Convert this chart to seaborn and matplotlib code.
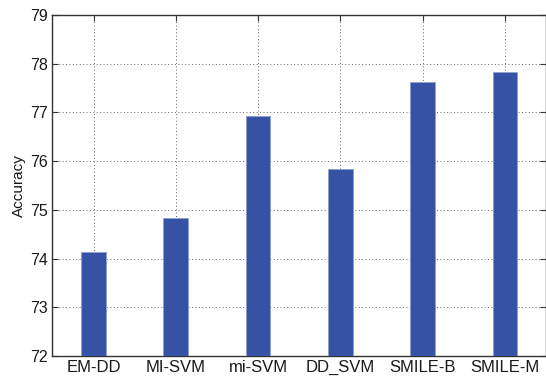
import matplotlib
matplotlib.use("Agg")
import matplotlib.pyplot as plt
import seaborn as sns
import pandas as pd

methods = ["EM-DD", "MI-SVM", "mi-SVM", "DD_SVM", "SMILE-B", "SMILE-M"]
accuracy = [74.13, 74.83, 76.92, 75.83, 77.62, 77.83]
y_ticks = [72, 73, 74, 75, 76, 77, 78, 79]

sns.set_theme(style="white")
plt.rcParams["font.family"] = ["Liberation Sans", "DejaVu Sans"]

df = pd.DataFrame({"method": methods, "accuracy": accuracy})

fig = plt.figure(figsize=(5.46, 3.77), dpi=100)
ax = fig.add_axes([0.096, 0.0557, 0.904, 0.9045])

sns.barplot(data=df, x="method", y="accuracy", ax=ax, width=0.3,
            color="#3552a4", saturation=1, edgecolor="#8f9fd0",
            linewidth=0.6, zorder=3)

ax.set_ylim(72, 79)
ax.set_xlim(-0.5, 5.5)
ax.set_yticks(y_ticks)
ax.set_yticklabels([str(t) for t in y_ticks], fontsize=11.5)
ax.set_xticks(range(len(methods)))
ax.set_xticklabels(methods, fontsize=12)
ax.set_xlabel("")
ax.set_ylabel("Accuracy", fontsize=11, labelpad=3, color="#1a1a1a")

ax.grid(True, linestyle=(0, (1, 2.5)), color="#666666", linewidth=0.7, zorder=0)
ax.set_axisbelow(True)

for side in ["top", "left", "bottom", "right"]:
    ax.spines[side].set_visible(True)
    ax.spines[side].set_color("#333333")
    ax.spines[side].set_linewidth(1.0)

ax.tick_params(axis="both", which="both", direction="in", length=4,
               width=0.8, color="#333333", top=True, right=True,
               bottom=True, left=True, pad=3, labelcolor="#1a1a1a")

fig.savefig("out.png", dpi=100)
